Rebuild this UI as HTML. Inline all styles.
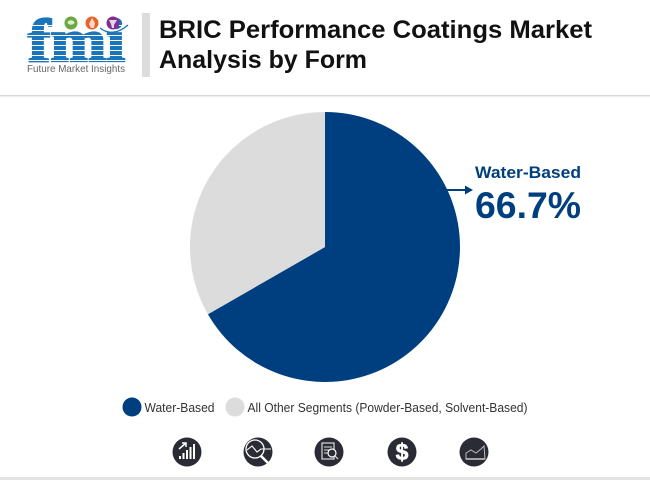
<!DOCTYPE html>
<html>
<head>
<meta charset="utf-8">
<style>
html,body{margin:0;padding:0;background:#fff}
#page{position:relative;width:650px;height:480px;overflow:hidden;background:#fff;font-family:"Liberation Sans",sans-serif}
svg{position:absolute;left:0;top:0}
</style>
</head>
<body>
<div id="page">
<svg id="chart" width="650" height="480" viewBox="0 0 650 480">
  <g>
    <text x="28" y="61" font-family="Liberation Serif" font-weight="700" font-size="60" fill="#1b75bb" stroke="#1b75bb" stroke-width="2.2" textLength="97" lengthAdjust="spacingAndGlyphs">fmi</text>
    <g id="logo-stripes"></g>
    <circle cx="71" cy="23" r="6.500" fill="#6aa842"/>
    <ellipse cx="71" cy="22.500" rx="3.500" ry="2.200" fill="#dfeccf"/>
    <circle cx="92" cy="23" r="6.500" fill="#e8622c"/>
    <path d="M92 18l3 5-1 5h-3l-2-4z" fill="#f8d9c8"/>
    <circle cx="113" cy="23" r="6.500" fill="#7f2f8e"/>
    <path d="M109 20h8l-3 5v3h-2l-1-4z" fill="#e6d3ea"/>
    <path d="M100 28 Q113 38 128 25" fill="none" stroke="#1b75bb" stroke-width="1.300"/>
    <text x="27" y="72" font-size="10.300" fill="#666" textLength="98" lengthAdjust="spacingAndGlyphs">Future Market Insights</text>
  </g>
  <rect x="142" y="13" width="8" height="64" fill="#dcdcdc"/>
  <text x="159" y="38" font-size="25" font-weight="700" fill="#111" textLength="433" lengthAdjust="spacingAndGlyphs">BRIC Performance Coatings Market</text>
  <text x="159" y="68" font-size="25" font-weight="700" fill="#111" textLength="208" lengthAdjust="spacingAndGlyphs">Analysis by Form</text>
  <rect x="0" y="95" width="650" height="1.500" fill="#d9d9d9"/>
  <g id="pie"></g>
  <g>
    <line x1="446" y1="190" x2="468" y2="190" stroke="#003f7f" stroke-width="2"/>
    <path d="M465 185.500 L473 190 L465 194.500 Z" fill="#003f7f"/>
    <text x="475" y="178" font-size="17" font-weight="700" fill="#003f7f" textLength="106" lengthAdjust="spacingAndGlyphs">Water-Based</text>
    <text id="callout-value" x="475" y="218" font-size="37" font-weight="700" fill="#003f7f" textLength="106" lengthAdjust="spacingAndGlyphs"></text>
  </g>
  <g id="legend"></g>
  <g>
    <g>
      <circle cx="187" cy="452" r="14.500" fill="#2b2b35"/>
      <path d="M180 459v-3M183.500 459v-6M187 459v-9M190.500 459v-12M194 459v-15" stroke="#fff" stroke-width="2" fill="none"/>
      <path d="M179 449l7-6M182 443h4v4" stroke="#fff" stroke-width="1.500" fill="none"/>
    </g>
    <g>
      <circle cx="258" cy="452" r="14.500" fill="#2b2b35"/>
      <circle cx="255" cy="449" r="9" fill="none" stroke="#fff" stroke-width="1.300"/>
      <path d="M247 450l5-4 5 6 4-3h10" fill="none" stroke="#fff" stroke-width="1.100"/>
      <path d="M261 456l7 7" stroke="#fff" stroke-width="2.500"/>
    </g>
    <g>
      <circle cx="329" cy="452" r="14.500" fill="#2b2b35"/>
      <rect x="322" y="443" width="12" height="16" fill="none" stroke="#ddd" stroke-width="1.200"/>
      <path d="M324 447h8M324 450h5M324 453h5" stroke="#ddd" stroke-width="1"/>
      <circle cx="332" cy="453" r="4" fill="#2b2b35" stroke="#fff" stroke-width="1.200"/>
      <path d="M335 456l3 3" stroke="#ddd" stroke-width="1.200"/>
    </g>
    <g>
      <circle cx="402" cy="452" r="14.500" fill="#2b2b35"/>
      <text x="402" y="460" text-anchor="middle" font-size="23" font-weight="700" fill="#fff" stroke="#fff" stroke-width="0.600">$</text>
    </g>
    <g>
      <circle cx="474" cy="452" r="14.500" fill="#2b2b35"/>
      <path d="M466 459v-6l5-3 5 3 5-4 3-3 1 13z" fill="none" stroke="#bbb" stroke-width="1"/>
      <path d="M466 459h19" stroke="#ccc" stroke-width="1.500"/>
    </g>
  </g>
  <rect x="0" y="477" width="650" height="3" fill="#e3e3e3"/>
</svg>
</div>
<script>
const categories = ["Water-Based", "All Other Segments (Powder-Based, Solvent-Based)"];
const seriesValues = [66.7, 33.3];
const sliceColors = ["#003f7f", "#dcdcdc"];

const NS = "http://www.w3.org/2000/svg";
const cx = 325, cy = 247, radius = 135;
const total = seriesValues.reduce(function (a, b) { return a + b; }, 0);
function angleOf(v) { return v / total * Math.PI * 2; }
function px(a) { return cx + radius * Math.sin(a); }
function py(a) { return cy - radius * Math.cos(a); }

const pie = document.getElementById("pie");
let startAngle = 0;
seriesValues.forEach(function (v, i) {
  const endAngle = startAngle + angleOf(v);
  const large = endAngle - startAngle > Math.PI ? 1 : 0;
  const slice = document.createElementNS(NS, "path");
  slice.setAttribute("d", "M" + cx + " " + cy + " L" + px(startAngle) + " " + py(startAngle) +
    " A" + radius + " " + radius + " 0 " + large + " 1 " + px(endAngle) + " " + py(endAngle) + " Z");
  slice.setAttribute("fill", sliceColors[i]);
  
  
  pie.appendChild(slice);
  startAngle = endAngle;
});

document.getElementById("callout-value").textContent = seriesValues[0].toFixed(1) + "%";

const legend = document.getElementById("legend");
const legendSwatchX = [132, 235];
const legendLabelWidth = [70, 280];
categories.forEach(function (c, i) {
  const dot = document.createElementNS(NS, "circle");
  dot.setAttribute("cx", legendSwatchX[i]);
  dot.setAttribute("cy", 407);
  dot.setAttribute("r", 9.5);
  dot.setAttribute("fill", sliceColors[i]);
  
  
  legend.appendChild(dot);
  const label = document.createElementNS(NS, "text");
  label.setAttribute("x", legendSwatchX[i] + 12.5);
  label.setAttribute("y", 412);
  label.setAttribute("font-size", "13");
  label.setAttribute("fill", "#333");
  label.setAttribute("textLength", legendLabelWidth[i]);
  label.setAttribute("lengthAdjust", "spacingAndGlyphs");
  label.textContent = c;
  
  
  legend.appendChild(label);
});

const stripes = document.getElementById("logo-stripes");
for (let y = 25; y < 62; y += 5) {
  const s = document.createElementNS(NS, "rect");
  s.setAttribute("x", 24);
  s.setAttribute("y", y);
  s.setAttribute("width", 106);
  s.setAttribute("height", 1);
  s.setAttribute("fill", "#fff");
  
  
  stripes.appendChild(s);
}
</script>
</body>
</html>
